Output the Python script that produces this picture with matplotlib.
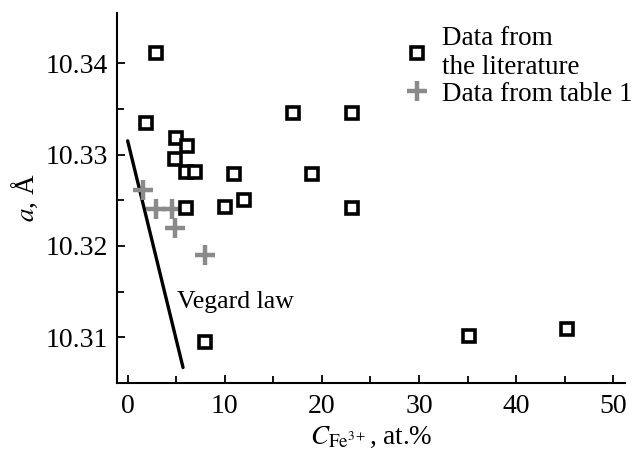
import matplotlib
matplotlib.use("Agg")
import matplotlib.pyplot as plt
from matplotlib.lines import Line2D

# Literature data (squares)
lit_c = [2.9, 1.9, 5.0, 6.1, 4.9, 6.0, 6.9, 11.0, 12.0, 10.0, 6.0, 8.0,
         17.0, 23.1, 19.0, 23.1, 35.1, 45.2]
lit_a = [10.3411, 10.3334, 10.3318, 10.3309, 10.3295, 10.3281, 10.3281, 10.3279,
         10.3250, 10.3243, 10.3241, 10.3095, 10.3345, 10.3345, 10.3279, 10.3242,
         10.3101, 10.3109]

# Data from table 1 (crosses)
tab_c = [1.6, 2.9, 4.6, 4.9, 8.0]
tab_a = [10.3261, 10.3240, 10.3240, 10.3220, 10.3190]

# Vegard law line end points
veg_c = [0.0, 5.7]
veg_a = [10.3315, 10.3067]

plt.rcParams['font.family'] = ['Liberation Serif', 'DejaVu Serif']
plt.rcParams['mathtext.fontset'] = 'stix'

fig = plt.figure(figsize=(6.39, 4.54), dpi=100)
ax = fig.add_axes([0.1826, 0.1564, 0.978 - 0.1826, 0.9714 - 0.1564])

ax.plot(veg_c, veg_a, color="black", lw=2.4, solid_capstyle="round")
ax.plot(tab_c, tab_a, linestyle="None", marker="+", ms=15, mew=3.2, color="#8a8a8a")
ax.plot(lit_c, lit_a, linestyle="None", marker="s", ms=8.5, mew=2.6,
        markeredgecolor="black", markerfacecolor="white")

ax.text(5.05, 10.3139, "Vegard law", fontsize=18.5, va="center", ha="left")

ax.set_xlim(-1.13, 51.2)
ax.set_ylim(10.30513, 10.34549)
ax.set_xticks([0, 10, 20, 30, 40, 50])
ax.set_xticks([5, 15, 25, 35, 45], minor=True)
ax.set_yticks([10.31, 10.32, 10.33, 10.34])
ax.set_yticklabels(["10.31", "10.32", "10.33", "10.34"])
ax.set_yticks([10.305 + 0.01 * k for k in range(4)], minor=True)

for s in ["top", "right"]:
    ax.spines[s].set_visible(False)
for s in ["left", "bottom"]:
    ax.spines[s].set_linewidth(1.5)

ax.tick_params(which="both", direction="in", width=1.3, labelsize=20)
ax.tick_params(which="major", length=6)
ax.tick_params(which="minor", length=5)
ax.tick_params(axis="y", pad=6)
ax.tick_params(axis="x", pad=8)

ax.set_xlabel(r"$C_{\mathrm{Fe}^{3+}}$, at.%", fontsize=19.5, labelpad=4)
ax.set_ylabel(r"$a$, Å", fontsize=19.5, labelpad=4)

handles = [
    Line2D([], [], linestyle="None", marker="s", ms=8.5, mew=2.6,
           markeredgecolor="black", markerfacecolor="white"),
    Line2D([], [], linestyle="None", marker="+", ms=15, mew=3.2, color="#8a8a8a"),
]
leg = ax.legend(handles, ["Data from\nthe literature", "Data from table 1"],
                loc="upper left", bbox_to_anchor=(0.53, 1.015), frameon=False,
                fontsize=19.5, handlelength=0.9, handletextpad=0.45,
                labelspacing=0.05, borderpad=0.2)

fig.savefig("out.png", dpi=100)
